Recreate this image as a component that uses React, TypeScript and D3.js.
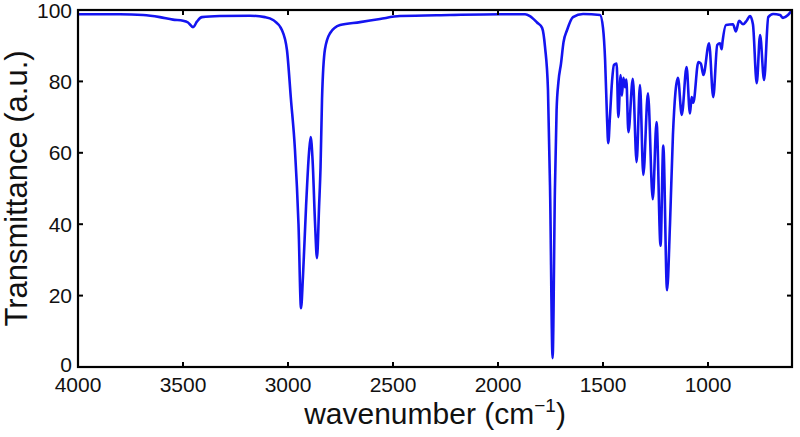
import React from 'react';
import * as d3 from 'd3';

// spectrum: wavenumber (cm^-1) and transmittance (a.u.)
const wavenumbers = [
  4000, 3800, 3690, 3610, 3548, 3500, 3476, 3452, 3433, 3410, 3324, 3181, 3110, 3071, 3029, 3005,
  2986, 2967, 2950, 2938, 2929, 2914, 2900, 2892, 2883, 2871, 2862, 2852, 2845, 2838, 2824, 2800,
  2752, 2657, 2562, 2467, 2229, 1990, 1871, 1848, 1814, 1790, 1776, 1762, 1752, 1740, 1729, 1721,
  1712, 1700, 1688, 1671, 1643, 1595, 1514, 1500, 1490, 1481, 1475, 1467, 1457, 1448, 1435, 1427,
  1416, 1410, 1403, 1395, 1389, 1379, 1358, 1340, 1324, 1308, 1286, 1263, 1245, 1226, 1213, 1195,
  1181, 1167, 1143, 1125, 1102, 1086, 1078, 1070, 1046, 1034, 1022, 995, 975, 956, 943, 935,
  931, 914, 881, 867, 852, 833, 816, 800, 786, 768, 752, 733, 713, 690, 657, 643,
  619, 600,
];
const transmittance = [
  98.8, 98.8, 98.6, 98.0, 97.3, 97.0, 96.5, 95.2, 96.8, 98.0, 98.3, 98.4, 98.0, 97.2, 94.4, 88.8,
  75, 61, 40, 16.5, 25, 45, 60, 64.4, 58, 40, 30.5, 45, 56, 75, 89, 93.5,
  95.8, 96.6, 97.5, 98.3, 98.6, 98.8, 98.8, 98.3, 96.5, 95, 89.6, 77.6, 49.6, 2.5, 49.6, 72,
  80, 85, 91, 94.4, 98, 98.9, 98.6, 95, 86, 70, 62.7, 70, 80, 84.6, 85, 70,
  81.8, 76, 81, 78.4, 80.5, 65.8, 80.7, 57.4, 79, 53.8, 76.7, 47, 68.6, 34, 62, 21.5,
  40, 65, 81, 70.6, 84, 71, 75.6, 74, 85.4, 85, 81.8, 90.7, 75.6, 90.2, 90.7, 89,
  91, 95.8, 96, 94, 97, 96, 97, 98.3, 96, 79.5, 93, 80.4, 98, 98.9, 98.6, 97.8,
  98.6, 100,
];

const xTicks = [4000, 3500, 3000, 2500, 2000, 1500, 1000];
const yTicks = [0, 20, 40, 60, 80, 100];

const W = 800;
const H = 437;
const margin = { left: 78, right: 8, top: 10, bottom: 70 };
const font = '"Liberation Sans", Arial, Helvetica, sans-serif';

export default function App() {
  const x = d3.scaleLinear().domain([4000, 600]).range([margin.left, W - margin.right]);
  const y = d3.scaleLinear().domain([0, 100]).range([H - margin.bottom, margin.top]);

  const points = wavenumbers.map((w, i) => [w, transmittance[i]] as [number, number]);
  const line = d3.line<[number, number]>()
    .x(d => x(d[0]))
    .y(d => y(d[1]))
    .curve(d3.curveMonotoneX);

  const x0 = x.range()[0], x1 = x.range()[1];
  const y0 = y.range()[0], y1 = y.range()[1];
  const tl = 5;

  return (
    <div style={{ position: 'fixed', left: 0, top: 0 }}>
      <svg width={W} height={H} style={{ display: 'block', background: '#fff' }}>
        <defs>
          <clipPath id="plot">
            <rect x={x0} y={y1 - 2} width={x1 - x0} height={y0 - y1 + 2} />
          </clipPath>
        </defs>
        <path d={line(points) || ''} fill="none" stroke="#1414f0" strokeWidth={2.6}
          strokeLinejoin="round" clipPath="url(#plot)" />
        {/* ticks on all four sides, pointing in */}
        {xTicks.map(t => (
          <g key={'x' + t}>
            <line x1={x(t)} x2={x(t)} y1={y0} y2={y0 - tl} stroke="#000" strokeWidth={2} />
            <line x1={x(t)} x2={x(t)} y1={y1} y2={y1 + tl} stroke="#000" strokeWidth={2} />
            <text x={x(t)} y={y0 + 25} textAnchor="middle" fontFamily={font} fontSize={21} fill="#111">{t}</text>
          </g>
        ))}
        {yTicks.map(t => (
          <g key={'y' + t}>
            <line x1={x0} x2={x0 + tl} y1={y(t)} y2={y(t)} stroke="#000" strokeWidth={2} />
            <line x1={x1} x2={x1 - tl} y1={y(t)} y2={y(t)} stroke="#000" strokeWidth={2} />
            <text x={x0 - 6} y={y(t) - (t === 0 ? 3 : 0)} dy="0.36em" textAnchor="end" fontFamily={font}
              fontSize={21} fill="#111">{t}</text>
          </g>
        ))}
        <rect x={x0} y={y1} width={x1 - x0} height={y0 - y1} fill="none" stroke="#000" strokeWidth={2.2} />
        <text transform={`translate(27,${(y0 + y1) / 2}) rotate(-90)`} textAnchor="middle"
          fontFamily={font} fontSize={31} fill="#111">Transmittance (a.u.)</text>
        <text x={(x0 + x1) / 2} y={H - 13} textAnchor="middle" fontFamily={font} fontSize={30} fill="#111">
          wavenumber (cm<tspan dy={-12} fontSize={19}>−1</tspan><tspan dy={12}>)</tspan>
        </text>
      </svg>
    </div>
  );
}
